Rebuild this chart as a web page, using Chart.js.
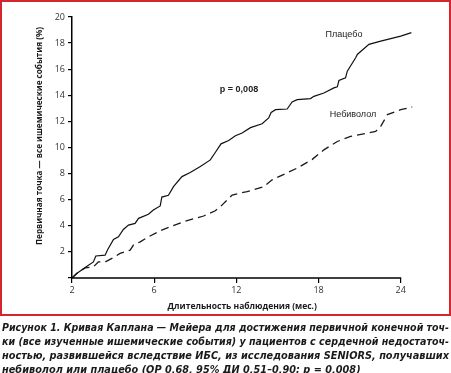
<!DOCTYPE html>
<html>
<head>
<meta charset="utf-8">
<script src="https://cdn.jsdelivr.net/npm/chart.js@4.4.0/dist/chart.umd.min.js"></script>
<style>
  html, body { margin: 0; padding: 0; background: #fff; }
  #wrap { position: absolute; left: 0; top: 0; width: 451px; height: 316px; }
  #frame { position: absolute; left: 0; top: 0; width: 451px; height: 316px; box-sizing: border-box;
           border: 2px solid #d3262e; pointer-events: none; }
  #caption { position: absolute; left: 2px; top: 321px; width: 449px;
             font-family: "DejaVu Sans", sans-serif; font-weight: bold; font-style: italic;
             font-size: 11px; line-height: 14px; color: #1a1a1a; }
  #caption div { white-space: nowrap; transform-origin: 0 0; height: 14px; }
</style>
</head>
<body>
<div id="wrap"><canvas id="c" width="451" height="316"></canvas></div>
<div id="frame"></div>
<div id="caption">
  <div>Рисунок 1. Кривая Каплана — Мейера для достижения первичной конечной точ-</div>
  <div>ки (все изученные ишемические события) у пациентов с сердечной недостаточ-</div>
  <div>ностью, развившейся вследствие ИБС, из исследования SENIORS, получавших</div>
  <div>небиволол или плацебо (ОР 0,68, 95% ДИ 0,51–0,90; p = 0,008)</div>
</div>
<script>
// ---- data (months, % with event) ----
const xTickMonths = [2, 6, 12, 18, 24];
const yTicks = [0, 2, 4, 6, 8, 10, 12, 14, 16, 18, 20];

const placeboMonths = [2.0, 2.23, 2.64, 3.04, 3.16, 3.61, 3.74, 4.02, 4.26, 4.50, 4.75, 5.07, 5.24, 5.72, 5.96,
  6.44, 6.56, 7.04, 7.41, 8.03, 8.63, 9.37, 10.10, 10.46, 10.88, 11.44, 11.93, 12.42, 13.03, 13.88, 14.36,
  14.54, 14.86, 15.71, 16.07, 16.44, 17.41, 17.66, 18.39, 19.12, 19.37, 19.49, 19.97, 20.10, 20.71, 20.83,
  21.68, 22.54, 24.0, 24.78];
const placeboValues = [0, 0.34, 0.80, 1.23, 1.69, 1.75, 2.18, 2.95, 3.15, 3.72, 4.05, 4.18, 4.57, 4.88, 5.21,
  5.52, 6.20, 6.34, 7.00, 7.77, 8.08, 8.54, 9.05, 9.62, 10.28, 10.54, 10.90, 11.11, 11.52, 11.82, 12.26,
  12.69, 12.90, 12.95, 13.49, 13.67, 13.75, 13.92, 14.18, 14.57, 14.65, 15.13, 15.34, 15.85, 16.88, 17.13,
  17.90, 18.15, 18.54, 18.80];

const nebivololMonths = [2.0, 2.31, 2.64, 3.04, 3.28, 3.61, 4.02, 4.34, 4.83, 4.99, 5.32, 5.72, 6.44, 7.17,
  8.14, 9.61, 10.46, 10.83, 11.69, 12.78, 13.97, 14.61, 16.44, 17.54, 18.39, 19.37, 20.34, 22.17, 22.54,
  23.03, 24.0, 24.86];
const nebivololValues = [0, 0.46, 0.77, 0.85, 1.23, 1.23, 1.57, 1.88, 2.13, 2.52, 2.77, 3.15, 3.62, 3.92,
  4.31, 4.75, 5.15, 5.46, 6.36, 6.62, 6.98, 7.52, 8.42, 9.09, 9.82, 10.46, 10.85, 11.23, 11.62,
  12.52, 12.90, 13.11];

const seriesLabels = ['Плацебо', 'Небиволол'];
const pValueText = 'p = 0,008';
const xTitle = 'Длительность наблюдения (мес.)';
const yTitle = 'Первичная точка — все ишемические события (%)';

// The reference axis places ticks 2, 6, 12, 18, 24 at equal spacing: piecewise mapping months -> axis position
function monthToPos(m) {
  for (let i = 0; i < xTickMonths.length - 1; i++) {
    const a = xTickMonths[i], b = xTickMonths[i + 1];
    if (m <= b || i === xTickMonths.length - 2) return i + (m - a) / (b - a);
  }
}
const toPoints = (ms, vs) => ms.map((m, i) => ({ x: monthToPos(m), y: vs[i] }));
const lastTickPos = xTickMonths.length - 1;
const xMaxPos = monthToPos(Math.max(...placeboMonths, ...nebivololMonths));

const labelPlugin = {
  id: 'labels',
  afterDraw(chart) {
    const { ctx, scales, chartArea } = chart;
    ctx.save();
    // x axis line ends at the last tick (curves run a little past it)
    ctx.strokeStyle = '#000';
    ctx.lineWidth = 1.5;
    ctx.beginPath();
    ctx.moveTo(chartArea.left, scales.y.getPixelForValue(0));
    ctx.lineTo(scales.x.getPixelForValue(lastTickPos) + 0.5, scales.y.getPixelForValue(0));
    ctx.stroke();

    ctx.fillStyle = '#222';
    ctx.textAlign = 'center';
    ctx.textBaseline = 'middle';
    ctx.font = '9px "Liberation Sans", Arial, sans-serif';
    ctx.fillText(seriesLabels[0], 344, 35);
    ctx.fillText(seriesLabels[1], 353, 115);
    ctx.font = 'bold 9px "Liberation Sans", Arial, sans-serif';
    ctx.fillText(pValueText, 239, 90);
    // y axis title
    ctx.translate(40, 136);
    ctx.rotate(-Math.PI / 2);
    ctx.fillStyle = '#1a1a1a';
    ctx.font = 'bold 8.5px "Open Sans", sans-serif';
    ctx.fillText(yTitle, 0, 0, 218);
    ctx.restore();
  }
};

new Chart(document.getElementById('c'), {
  type: 'line',
  data: {
    datasets: [
      { label: seriesLabels[0], data: toPoints(placeboMonths, placeboValues), borderColor: '#111',
        borderWidth: 1.2, pointRadius: 0, tension: 0, fill: false },
      { label: seriesLabels[1], data: toPoints(nebivololMonths, nebivololValues), borderColor: '#1a1a1a',
        borderWidth: 1.3, borderDash: [8, 5], pointRadius: 0, tension: 0, fill: false }
    ]
  },
  options: {
    responsive: false,
    animation: false,
    layout: { padding: { left: 0, right: 38.5, top: 17, bottom: 0 } },
    plugins: { legend: { display: false }, tooltip: { enabled: false } },
    scales: {
      x: {
        type: 'linear', min: 0, max: xMaxPos,
        afterBuildTicks: s => { s.ticks = xTickMonths.map((m, i) => ({ value: i })); },
        ticks: { callback: (v) => String(xTickMonths[v]), color: '#333', padding: 2,
                 font: { family: '"Open Sans", sans-serif', size: 9 }, maxRotation: 0 },
        grid: { drawOnChartArea: false, drawTicks: true, tickLength: 5, color: '#000', lineWidth: 1.2 },
        border: { display: false },
        title: { display: true, text: xTitle, color: '#1a1a1a', padding: { top: 0, bottom: 4 },
                 font: { family: '"Open Sans", sans-serif', size: 8.5, weight: 'bold' } },
        afterFit: s => { s.height = 38; }
      },
      y: {
        min: 0, max: 20,
        afterBuildTicks: s => { s.ticks = yTicks.map(v => ({ value: v })); },
        ticks: { callback: (v) => v === 0 ? '' : String(v), color: '#333', padding: 3,
                 font: { family: '"Open Sans", sans-serif', size: 9 } },
        grid: { drawOnChartArea: false, drawTicks: true, tickLength: 4, color: '#000', lineWidth: 1.2 },
        border: { color: '#000', width: 1.5 },
        afterFit: s => { s.width = 72; }
      }
    }
  },
  plugins: [labelPlugin]
});

// full-justified caption lines as in the reference
let scale = 1;
document.querySelectorAll('#caption div').forEach((d, i, all) => {
  const span = document.createElement('span');
  span.textContent = d.textContent; span.style.whiteSpace = 'nowrap';
  d.textContent = ''; d.appendChild(span);
  const tw = span.getBoundingClientRect().width;
  if (i < all.length - 1) scale = 447 / tw;
  d.style.transform = 'scaleX(' + scale + ')';
});
</script>
</body>
</html>
